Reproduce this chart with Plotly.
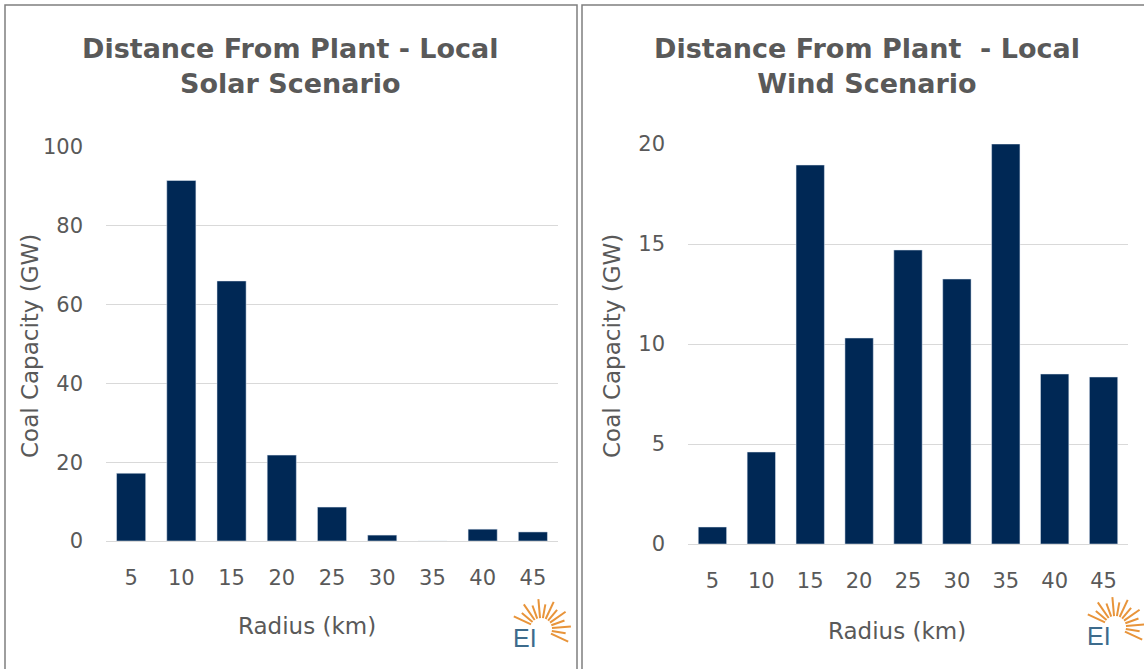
import math
import plotly.graph_objects as go

W, H = 1144, 669

radius = ["5", "10", "15", "20", "25", "30", "35", "40", "45"]
solar_gw = [17.2, 91.5, 66.0, 21.8, 8.6, 1.5, 0.0, 3.0, 2.3]
wind_gw = [0.85, 4.6, 18.95, 10.3, 14.7, 13.25, 20.0, 8.5, 8.35]

titles = ["Distance From Plant - Local<br>Solar Scenario",
          "Distance From Plant  - Local<br>Wind Scenario"]
x_title = "Radius (km)"
y_title = "Coal Capacity (GW)"

NAVY = "#002855"
GREY = "#595959"
GRID = "#d9d9d9"
FONT = "DejaVu Sans"

def px(x):
    return x / W

def py(y):
    return 1 - y / H

fig = go.Figure()
fig.add_trace(go.Bar(x=radius, y=solar_gw, marker_color=NAVY, xaxis="x", yaxis="y",
                     hoverinfo="x+y"))
fig.add_trace(go.Bar(x=radius, y=wind_gw, marker_color=NAVY, xaxis="x2", yaxis="y2",
                     hoverinfo="x+y"))

common_x = dict(showgrid=False, showline=True, linecolor=GRID, linewidth=1,
                ticks="", tickfont=dict(family=FONT, size=21, color=GREY),
                ticklabelstandoff=18, fixedrange=True, automargin=False)
common_y = dict(showgrid=True, gridcolor=GRID, gridwidth=1, zeroline=False,
                showline=False, ticks="", tickfont=dict(family=FONT, size=21, color=GREY),
                ticklabelstandoff=22, fixedrange=True, automargin=False)

fig.update_layout(
    width=W, height=H, autosize=False,
    margin=dict(l=0, r=0, t=0, b=0, pad=0),
    paper_bgcolor="white", plot_bgcolor="white",
    showlegend=False, bargap=0.42,
    xaxis=dict(domain=[px(106), px(558)], anchor="y", **common_x),
    yaxis=dict(domain=[py(541), py(147)], anchor="x", range=[0, 100],
               tickvals=[0, 20, 40, 60, 80, 100], **common_y),
    xaxis2=dict(domain=[px(688), px(1128)], anchor="y2", **common_x),
    yaxis2=dict(domain=[py(544), py(144)], anchor="x2", range=[0, 20],
                tickvals=[0, 5, 10, 15, 20], **common_y),
)

annotations = []
for cx, t in [(290, titles[0]), (867, titles[1])]:
    annotations.append(dict(x=px(cx), y=py(66), xref="paper", yref="paper",
                            text="<b>" + t + "</b>", showarrow=False,
                            xanchor="center", yanchor="middle", align="center",
                            font=dict(family=FONT, size=27, color=GREY)))
for cx, cy in [(307, 626), (897, 631)]:
    annotations.append(dict(x=px(cx), y=py(cy), xref="paper", yref="paper",
                            text=x_title, showarrow=False, xanchor="center",
                            yanchor="middle", font=dict(family=FONT, size=23, color=GREY)))
for cx, cy in [(30, 346), (612, 346)]:
    annotations.append(dict(x=px(cx), y=py(cy), xref="paper", yref="paper",
                            text=y_title, showarrow=False, xanchor="center",
                            yanchor="middle", textangle=-90,
                            font=dict(family=FONT, size=23, color=GREY)))

shapes = []
shapes.append(dict(type="rect", xref="paper", yref="paper", x0=px(5), x1=px(577),
                   y0=py(672), y1=py(5), line=dict(color="#7f7f7f", width=1.5)))
shapes.append(dict(type="rect", xref="paper", yref="paper", x0=px(582), x1=px(1146),
                   y0=py(672), y1=py(5), line=dict(color="#7f7f7f", width=1.5)))

# EI logos (decorative)
for lx, ly in [(525, 638), (1099, 636)]:
    annotations.append(dict(x=px(lx), y=py(ly), xref="paper", yref="paper",
                            text="EI", showarrow=False, xanchor="center", yanchor="middle",
                            font=dict(family="Liberation Sans", size=25, color="#3d6b8c")))
    cx, cy = lx + 16, ly - 9
    for i, ang in enumerate(range(-25, 160, 15)):
        a = math.radians(ang)
        r0 = 11
        r1 = 30 if i % 2 == 0 else 25
        shapes.append(dict(type="line", xref="paper", yref="paper",
                           x0=px(cx + r0 * math.cos(a)), y0=py(cy - r0 * math.sin(a)),
                           x1=px(cx + r1 * math.cos(a)), y1=py(cy - r1 * math.sin(a)),
                           line=dict(color="#e8943a", width=2)))

fig.update_layout(annotations=annotations, shapes=shapes)
fig.write_html("out.html", config={"displayModeBar": False},
               post_script="document.body.style.margin='0';document.body.style.overflow='hidden';")
